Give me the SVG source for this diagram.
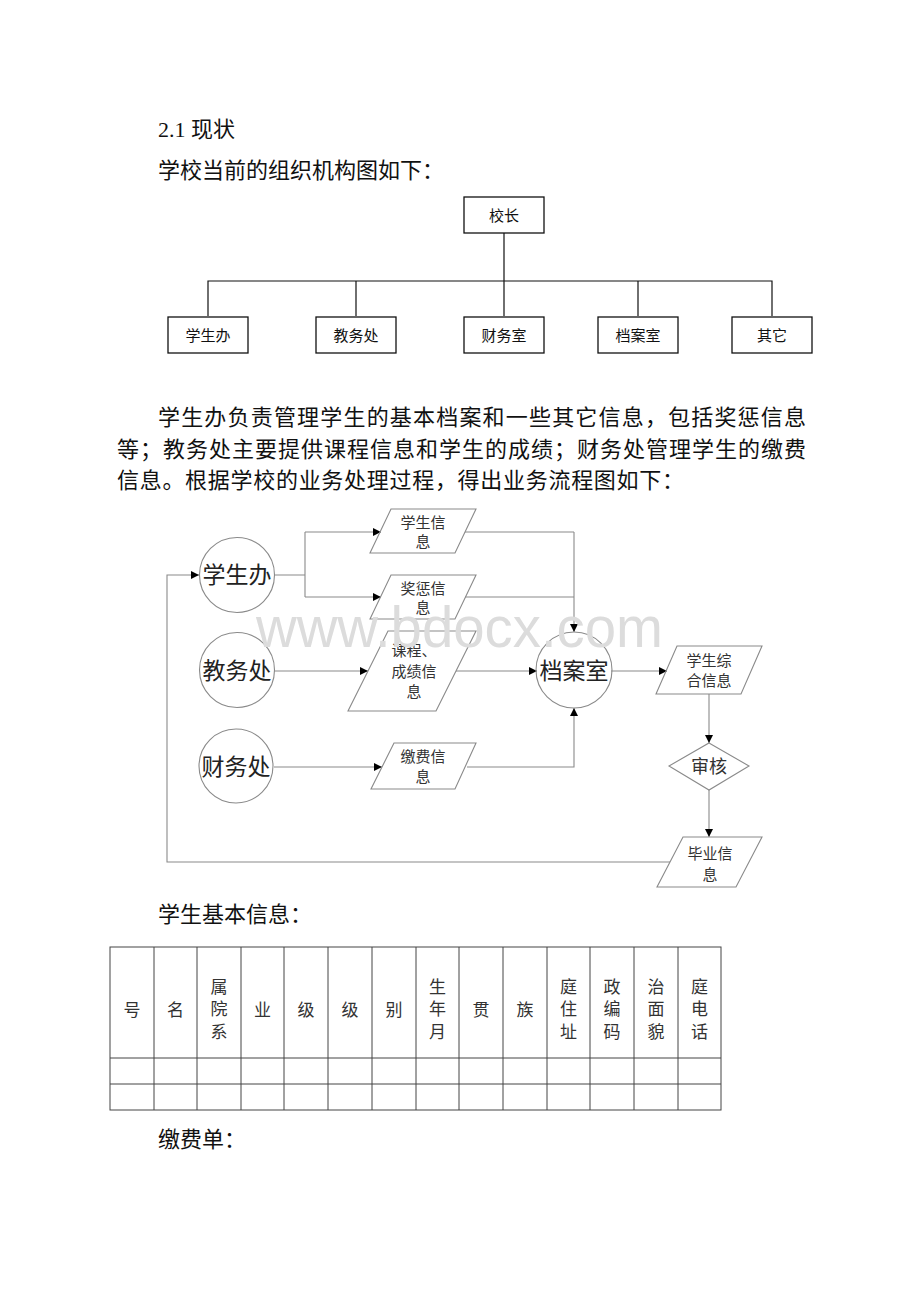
<svg xmlns="http://www.w3.org/2000/svg" width="920" height="1302" viewBox="0 0 920 1302">
<style>
text{font-family:"Liberation Serif","Noto Sans CJK SC",serif;fill:#111}
.body{font-size:22px}
.ob{fill:#fff;stroke:#111;stroke-width:1.3}
.ol{fill:none;stroke:#111;stroke-width:1.2}
.ot{font-size:15px;text-anchor:middle}
.fs{fill:none;stroke:#8a8a8a;stroke-width:1.1}
.fl{fill:none;stroke:#8a8a8a;stroke-width:1.1;marker-end:url(#ah)}
.ct{font-size:23px;text-anchor:middle;fill:#222}
.pt{font-size:15px;text-anchor:middle;fill:#333}
.tb{fill:none;stroke:#444;stroke-width:1}
.tt{font-size:17px;text-anchor:middle;fill:#333}
.wm{font-family:"Liberation Sans",Arial,sans-serif;font-size:58px;fill:#dcdcdc}
</style>
<defs>
<marker id="ah" viewBox="0 0 10 10" refX="10" refY="5" markerWidth="10" markerHeight="8" markerUnits="userSpaceOnUse" orient="auto">
<path d="M0,0 L10,5 L0,10 Z" fill="#000"/>
</marker>
</defs>
<rect width="920" height="1302" fill="#fff"/>

<text class="body" x="158" y="137">2.1 现状</text>
<text class="body" x="158" y="178">学校当前的组织机构图如下：</text>

<g id="org-connectors">
<path class="ol" d="M504,233 V316 M208,316 V281 H772 V316 M356,281 V316 M638,281 V316"/>
</g>
<g id="org-xiaozhang"><rect class="ob" x="464" y="197" width="80" height="36"/><text class="ot" x="504" y="221">校长</text></g>
<g id="org-xueshengban"><rect class="ob" x="168" y="317" width="80" height="36"/><text class="ot" x="208" y="341">学生办</text></g>
<g id="org-jiaowuchu"><rect class="ob" x="316" y="317" width="80" height="36"/><text class="ot" x="356" y="341">教务处</text></g>
<g id="org-caiwushi"><rect class="ob" x="464" y="317" width="80" height="36"/><text class="ot" x="504" y="341">财务室</text></g>
<g id="org-danganshi"><rect class="ob" x="598" y="317" width="80" height="36"/><text class="ot" x="638" y="341">档案室</text></g>
<g id="org-qita"><rect class="ob" x="732" y="317" width="80" height="36"/><text class="ot" x="772" y="341">其它</text></g>

<text class="body" x="158" y="425" textLength="648" lengthAdjust="spacing">学生办负责管理学生的基本档案和一些其它信息，包括奖惩信息</text>
<text class="body" x="117" y="457" textLength="689" lengthAdjust="spacing">等；教务处主要提供课程信息和学生的成绩；财务处管理学生的缴费</text>
<text class="body" x="117" y="488" textLength="567" lengthAdjust="spacing">信息。根据学校的业务处理过程，得出业务流程图如下：</text>

<g id="flow-connectors">
<path class="fs" d="M274,575 H305 M305,532 V597"/>
<path class="fl" d="M305,532 H381"/>
<path class="fl" d="M305,597 H381"/>
<path class="fs" d="M465,532 H574 M465,597 H574"/>
<path class="fl" d="M574,532 V632"/>
<path class="fl" d="M274,671 H368"/>
<path class="fl" d="M456,671 H537"/>
<path class="fl" d="M274,767 H382"/>
<path class="fl" d="M467,767 H574 V708"/>
<path class="fl" d="M611,671 H667"/>
<path class="fl" d="M709,694 V743"/>
<path class="fl" d="M709,790 V837"/>
<path class="fl" d="M670,862 H167 V575 H199"/>
</g>

<g id="flow-xueshengban"><circle class="fs" cx="237" cy="575" r="37.5"/><text class="ct" x="237" y="583">学生办</text></g>
<g id="flow-jiaowuchu"><circle class="fs" cx="237" cy="670" r="37.5"/><text class="ct" x="237" y="679">教务处</text></g>
<g id="flow-caiwuchu"><circle class="fs" cx="236" cy="766" r="37"/><text class="ct" x="236" y="775">财务处</text></g>
<g id="flow-danganshi"><circle class="fs" cx="574" cy="670" r="38"/><text class="ct" x="574" y="679">档案室</text></g>

<g id="flow-xueshengxinxi"><polygon class="fs" points="391,509 476,509 455,553 370,553"/><text class="pt" x="423" y="528">学生信</text><text class="pt" x="423" y="547">息</text></g>
<g id="flow-jiangchengxinxi"><polygon class="fs" points="391,575 476,575 455,619 370,619"/><text class="pt" x="423" y="594">奖惩信</text><text class="pt" x="423" y="613">息</text></g>
<g id="flow-kecheng"><polygon class="fs" points="388,631 476,631 436,711 348,711"/><text class="pt" x="414" y="656">课程、</text><text class="pt" x="414" y="677">成绩信</text><text class="pt" x="414" y="697">息</text></g>
<g id="flow-jiaofeixinxi"><polygon class="fs" points="394,743 476,743 455,789 371,789"/><text class="pt" x="423" y="762">缴费信</text><text class="pt" x="423" y="782">息</text></g>
<g id="flow-zonghexinxi"><polygon class="fs" points="677,646 762,646 741,694 656,694"/><text class="pt" x="709" y="666">学生综</text><text class="pt" x="709" y="686">合信息</text></g>
<g id="flow-shenhe"><polygon class="fs" points="709,743 749,766 709,790 669,766"/><text class="pt" x="709" y="773" style="font-size:18px">审核</text></g>
<g id="flow-biyexinxi"><polygon class="fs" points="683,837 762,837 736,887 657,887"/><text class="pt" x="710" y="859">毕业信</text><text class="pt" x="710" y="880">息</text></g>

<text class="wm" x="256" y="647" textLength="407" lengthAdjust="spacingAndGlyphs">www.bdocx.com</text>

<text class="body" x="158" y="922">学生基本信息：</text>

<g id="table">
<rect class="tb" x="110" y="947" width="611" height="163"/>
<path class="tb" d="M110,1058 H721 M110,1084 H721 M154,947 V1110 M197,947 V1110 M241,947 V1110 M284,947 V1110 M328,947 V1110 M372,947 V1110 M416,947 V1110 M459,947 V1110 M503,947 V1110 M547,947 V1110 M590,947 V1110 M634,947 V1110 M678,947 V1110"/>
<text class="tt" x="132" y="1016">号</text>
<text class="tt" x="175.5" y="1016">名</text>
<text class="tt" x="219" y="993">属</text><text class="tt" x="219" y="1015">院</text><text class="tt" x="219" y="1038">系</text>
<text class="tt" x="262.5" y="1016">业</text>
<text class="tt" x="306" y="1016">级</text>
<text class="tt" x="350" y="1016">级</text>
<text class="tt" x="394" y="1016">别</text>
<text class="tt" x="437.5" y="993">生</text><text class="tt" x="437.5" y="1015">年</text><text class="tt" x="437.5" y="1038">月</text>
<text class="tt" x="481" y="1016">贯</text>
<text class="tt" x="525" y="1016">族</text>
<text class="tt" x="568.5" y="993">庭</text><text class="tt" x="568.5" y="1015">住</text><text class="tt" x="568.5" y="1038">址</text>
<text class="tt" x="612" y="993">政</text><text class="tt" x="612" y="1015">编</text><text class="tt" x="612" y="1038">码</text>
<text class="tt" x="656" y="993">治</text><text class="tt" x="656" y="1015">面</text><text class="tt" x="656" y="1038">貌</text>
<text class="tt" x="699.5" y="993">庭</text><text class="tt" x="699.5" y="1015">电</text><text class="tt" x="699.5" y="1038">话</text>
</g>

<text class="body" x="158" y="1147">缴费单：</text>
</svg>
